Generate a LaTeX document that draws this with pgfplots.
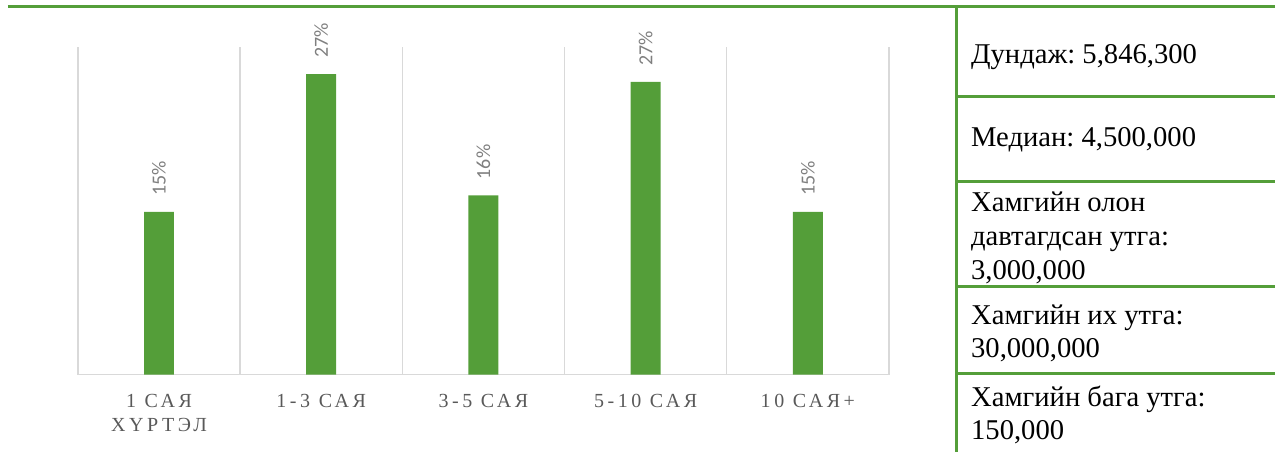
\documentclass[border=0pt]{standalone}
\usepackage{fontspec}
\setmainfont{Liberation Serif}
\newfontfamily\labelfont[LetterSpace=18]{Liberation Serif}
\newfontfamily\datafont{Carlito}
\usepackage{pgfplots}
\pgfplotsset{compat=1.18}
\definecolor{barGreen}{HTML}{549E39}
\definecolor{gridGray}{HTML}{D9D9D9}
\definecolor{tickGray}{HTML}{595959}
\definecolor{valGray}{HTML}{7F7F7F}
\frenchspacing

\begin{document}
\begin{tikzpicture}
\begin{scope}[x=0.75pt,y=0.75pt]
\useasboundingbox (0,0) rectangle (1276,453);
\end{scope}
\begin{axis}[
  at={(58.5pt,58.5pt)}, anchor=south west,
  scale only axis, width=609pt, height=246pt,
  xmin=-0.5, xmax=4.5, ymin=0, ymax=30,
  axis x line=bottom, axis y line=none,
  x axis line style={draw=gridGray, line width=1.1pt, -},
  xtick={0,...,4},
  xticklabels={{1 САЯ\\ХҮРТЭЛ},{1-3 САЯ},{3-5 САЯ},{5-10 САЯ},{10 САЯ+}},
  major tick length=0pt, minor tick length=0pt,
  minor xtick={-0.5,0.5,...,4.5},
  xminorgrids, minor x grid style={draw=gridGray, line width=1.1pt},
  ytick=\empty,
  xticklabel style={font=\labelfont\fontsize{15}{18}\selectfont, text=tickGray, align=center, anchor=north, yshift=-11pt},
  ybar, bar width=22.5pt,
  nodes near coords, point meta=explicit symbolic,
  nodes near coords style={rotate=90, anchor=west, font=\datafont\fontsize{15}{15}\selectfont, text=valGray, inner xsep=12pt},
  clip=false,
]
\addplot[fill=barGreen, draw=none] coordinates {
  (0,14.9) [15\%]
  (1,27.5) [27\%]
  (2,16.4) [16\%]
  (3,26.8) [27\%]
  (4,14.9) [15\%]
};
\end{axis}
\begin{scope}[x=0.75pt,y=0.75pt]
  \draw[barGreen, line width=2.25pt] (8,446) -- (1276,446);
  \draw[barGreen, line width=2.25pt] (958,446) -- (958,0);
  \foreach \yy in {356,271,166,79}
    \draw[barGreen, line width=2.25pt] (958,\yy) -- (1276,\yy);
  \tikzset{panel/.style={anchor=base west, inner sep=0pt, font=\fontsize{21.5}{21.5}\selectfont}}
  \node[panel] at (972,389) {Дундаж: 5,846,300};
  \node[panel] at (972,306) {Медиан: 4,500,000};
  \node[panel] at (972,241) {Хамгийн олон};
  \node[panel] at (972,207) {давтагдсан утга:};
  \node[panel] at (972,173) {3,000,000};
  \node[panel] at (972,128) {Хамгийн их утга:};
  \node[panel] at (972,95) {30,000,000};
  \node[panel] at (972,46) {Хамгийн бага утга:};
  \node[panel] at (972,13) {150,000};
\end{scope}
\end{tikzpicture}
\end{document}
